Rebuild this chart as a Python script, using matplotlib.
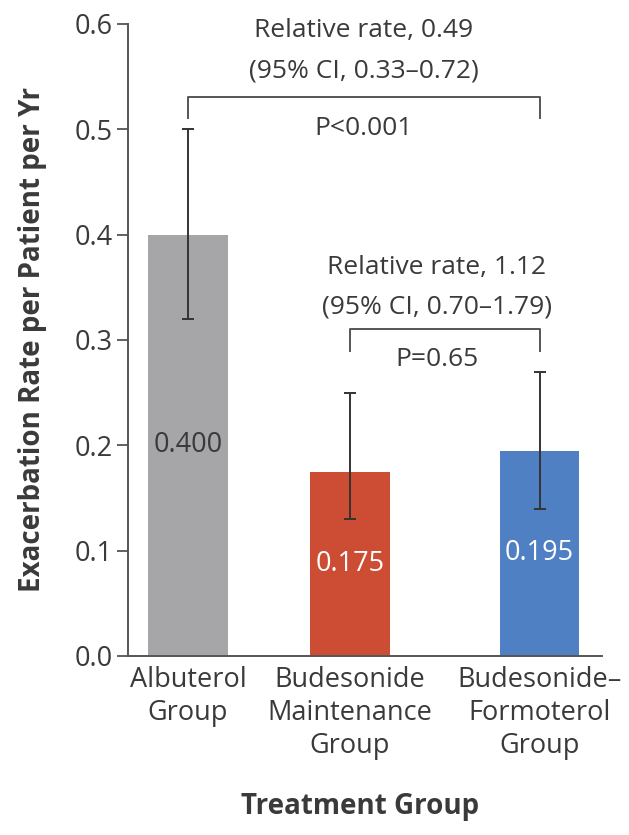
import matplotlib.pyplot as plt

plt.rcParams['font.family'] = ['Open Sans', 'DejaVu Sans']

# Annualized exacerbation rates with 95% CI
groups = ['Albuterol\nGroup', 'Budesonide\nMaintenance\nGroup', 'Budesonide\u2013\nFormoterol\nGroup']
rates = [0.400, 0.175, 0.195]
ci_low = [0.32, 0.13, 0.14]
ci_high = [0.50, 0.25, 0.27]
rate_labels = ['0.400', '0.175', '0.195']
yticks = [0.0, 0.1, 0.2, 0.3, 0.4, 0.5, 0.6]

colors = ['#a6a6a8', '#cc4d33', '#5080c4']
label_colors = ['#3a3a3a', 'white', 'white']
xpos = [0, 1, 2.17]
text_color = '#3a3a3a'

fig = plt.figure(figsize=(6.29, 8.35), dpi=100)
ax = fig.add_axes([0.2035, 0.2144, 0.7535, 0.7569])

ax.bar(xpos, rates, width=0.49, color=colors, zorder=1)
yerr = [[r - lo for r, lo in zip(rates, ci_low)], [hi - r for r, hi in zip(rates, ci_high)]]
ax.errorbar(xpos, rates, yerr=yerr, fmt='none', ecolor='#333333', elinewidth=1.4,
            capsize=4, capthick=1.4, zorder=2)

# value printed halfway up each bar
for x, r, lab, c in zip(xpos, rates, rate_labels, label_colors):
    ax.text(x, r / 2, lab, ha='center', va='center', fontsize=19.5, color=c, zorder=3)

# comparison brackets
def bracket(x0, x1, y, drop):
    ax.plot([x0, x0, x1, x1], [y - drop, y, y, y - drop], color='#555555', lw=1.4,
            clip_on=False)

ann = dict(ha='center', va='center', fontsize=19, color=text_color)

bracket(xpos[0], xpos[2], 0.531, 0.02)
mid = (xpos[0] + xpos[2]) / 2
ax.text(mid, 0.594, 'Relative rate, 0.49', **ann)
ax.text(mid, 0.555, '(95% CI, 0.33\u20130.72)', **ann)
ax.text(mid, 0.501, 'P<0.001', **ann)

bracket(xpos[1], xpos[2], 0.310, 0.02)
mid = (xpos[1] + xpos[2]) / 2 - 0.05
ax.text(mid, 0.369, 'Relative rate, 1.12', **ann)
ax.text(mid, 0.331, '(95% CI, 0.70\u20131.79)', **ann)
ax.text(mid, 0.281, 'P=0.65', **ann)

ax.set_ylim(0, 0.6)
ax.set_xlim(-0.37, 2.555)
ax.set_yticks(yticks)
ax.set_yticklabels([f'{t:.1f}' for t in yticks])
ax.set_xticks(xpos)
ax.set_xticklabels(groups, linespacing=1.25)
ax.tick_params(axis='y', direction='out', length=8, width=1.3, color='#555555',
               labelsize=19.5, labelcolor=text_color, pad=3)
ax.tick_params(axis='x', length=0, labelsize=19.5, labelcolor=text_color, pad=7)
for s in ['top', 'right']:
    ax.spines[s].set_visible(False)
for s in ['left', 'bottom']:
    ax.spines[s].set_color('#555555')
    ax.spines[s].set_linewidth(1.4)

ax.set_ylabel('Exacerbation Rate per Patient per Yr', fontsize=20, fontweight='bold',
              color=text_color)
ax.yaxis.set_label_coords(-0.17, 0.5)
ax.set_xlabel('Treatment Group', fontsize=20, fontweight='bold', color=text_color)
ax.xaxis.set_label_coords(0.489, -0.215)

fig.savefig('out.png', dpi=100)
